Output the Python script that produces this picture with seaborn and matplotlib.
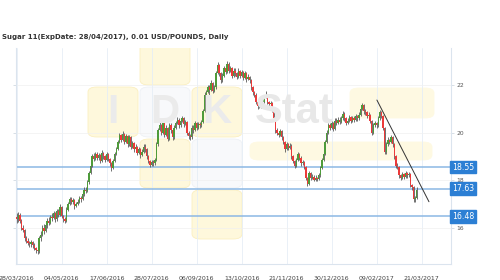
import numpy as np
import pandas as pd
import matplotlib
matplotlib.use("Agg")
import matplotlib.pyplot as plt
from matplotlib.patches import FancyBboxPatch
import seaborn as sns

# ---------------- data ----------------
title = "Sugar 11(ExpDate: 28/04/2017), 0.01 USD/POUNDS, Daily"
tick_labels = ["28/03/2016", "04/05/2016", "17/06/2016", "28/07/2016", "06/09/2016",
               "13/10/2016", "21/11/2016", "30/12/2016", "09/02/2017", "21/03/2017"]
tick_bars = [0, 28, 56, 84, 112, 140, 168, 196, 224, 252]
y_ticks = [16, 18, 20, 22]
levels = [18.55, 17.63, 16.48]
level_labels = ["18.55", "17.63", "16.48"]
trend_x = [224.2, 256.6]
trend_y = [21.37, 17.09]
first_open = 16.45

close = [
    16.35, 16.55, 16.30, 16.00, 15.90, 15.55, 15.45, 15.35, 15.30, 15.40,
    15.25, 15.15, 15.05, 15.00, 15.55, 15.70, 16.00, 15.85, 16.10, 16.30,
    16.20, 16.45, 16.40, 16.60, 16.35, 16.70, 16.55, 16.85, 16.50, 16.35,
    16.30, 16.75, 17.00, 17.20, 17.10, 17.15, 16.90, 17.00, 17.10, 17.25,
    17.20, 17.40, 17.60, 17.55, 17.90, 18.30, 18.60, 19.00, 18.90, 19.10,
    18.95, 19.05, 18.80, 19.15, 19.00, 18.85, 19.10, 18.90, 18.70, 18.50,
    18.80, 19.10, 19.30, 19.60, 19.90, 19.70, 19.95, 19.60, 19.85, 19.50,
    19.80, 19.40, 19.55, 19.30, 19.40, 19.15, 19.30, 19.05, 19.20, 19.40,
    19.30, 19.00, 18.80, 18.65, 18.75, 18.70, 18.85, 19.50, 20.10, 20.30,
    20.00, 20.40, 19.90, 20.20, 19.75, 20.30, 20.10, 19.80, 20.20, 20.40,
    20.55, 20.30, 20.50, 20.60, 20.35, 20.45, 20.00, 19.85, 19.80, 20.20,
    20.10, 20.40, 20.20, 20.35, 20.30, 20.45, 20.90, 21.60, 21.70, 21.90,
    21.80, 22.10, 21.75, 21.90, 22.50, 22.85, 22.50, 22.20, 22.40, 22.70,
    22.55, 22.90, 22.60, 22.70, 22.40, 22.60, 22.50, 22.35, 22.60, 22.40,
    22.55, 22.30, 22.50, 22.25, 22.35, 22.20, 21.90, 21.70, 21.60, 21.30,
    21.10, 21.35, 21.15, 21.30, 21.50, 21.55, 21.30, 21.20, 21.25, 20.95,
    20.60, 20.10, 20.00, 19.90, 20.05, 19.80, 19.60, 19.30, 19.50, 19.35,
    19.45, 19.00, 18.80, 18.60, 18.85, 19.10, 18.95, 18.70, 18.75, 18.55,
    18.10, 17.85, 18.30, 18.10, 18.15, 18.00, 18.10, 18.05, 18.20, 18.50,
    18.85, 19.10, 19.60, 20.00, 20.30, 20.20, 20.40, 20.15, 20.50, 20.40,
    20.55, 20.45, 20.60, 20.80, 20.60, 20.40, 20.50, 20.65, 20.50, 20.60,
    20.55, 20.70, 20.60, 20.75, 21.00, 21.15, 20.90, 20.85, 20.70, 20.75,
    20.50, 20.00, 20.30, 20.40, 20.30, 20.60, 20.85, 20.70, 20.20, 19.20,
    19.50, 19.70, 19.60, 19.80, 19.50, 19.00, 18.60, 18.55, 18.20, 18.10,
    18.25, 18.15, 18.30, 18.20, 18.25, 17.80, 17.70, 17.20, 17.25, 17.60,
]

high = [
    16.60, 16.65, 16.60, 16.35, 16.10, 15.95, 15.65, 15.55, 15.45, 15.50,
    15.45, 15.35, 15.20, 15.10, 15.65, 15.85, 16.10, 16.15, 16.20, 16.40,
    16.45, 16.55, 16.60, 16.70, 16.65, 16.80, 16.80, 17.00, 16.90, 16.55,
    16.45, 16.85, 17.10, 17.30, 17.30, 17.25, 17.20, 17.10, 17.20, 17.35,
    17.35, 17.50, 17.70, 17.70, 18.00, 18.40, 18.70, 19.10, 19.15, 19.20,
    19.20, 19.15, 19.10, 19.25, 19.20, 19.05, 19.20, 19.15, 18.95, 18.75,
    18.90, 19.20, 19.40, 19.70, 20.00, 19.95, 20.05, 20.00, 19.95, 19.90,
    19.90, 19.85, 19.65, 19.60, 19.50, 19.45, 19.40, 19.35, 19.30, 19.50,
    19.50, 19.35, 19.05, 18.85, 18.85, 18.85, 18.95, 19.60, 20.20, 20.45,
    20.35, 20.50, 20.45, 20.30, 20.25, 20.40, 20.40, 20.15, 20.30, 20.50,
    20.65, 20.60, 20.60, 20.70, 20.65, 20.55, 20.50, 20.05, 19.95, 20.30,
    20.30, 20.50, 20.45, 20.45, 20.45, 20.55, 21.00, 21.70, 21.80, 22.00,
    22.00, 22.20, 22.15, 22.00, 22.60, 22.95, 22.90, 22.55, 22.50, 22.80,
    22.80, 23.00, 22.95, 22.80, 22.75, 22.70, 22.70, 22.55, 22.70, 22.65,
    22.65, 22.60, 22.60, 22.55, 22.45, 22.40, 22.25, 21.95, 21.75, 21.65,
    21.35, 21.45, 21.40, 21.40, 21.60, 21.75, 21.60, 21.35, 21.35, 21.30,
    21.00, 20.65, 20.20, 20.05, 20.15, 20.10, 19.85, 19.65, 19.60, 19.55,
    19.55, 19.50, 19.05, 18.85, 18.95, 19.20, 19.15, 19.00, 18.85, 18.80,
    18.60, 18.15, 18.40, 18.35, 18.25, 18.20, 18.20, 18.15, 18.30, 18.60,
    18.95, 19.20, 19.70, 20.10, 20.40, 20.40, 20.50, 20.45, 20.60, 20.60,
    20.65, 20.65, 20.70, 20.90, 20.85, 20.65, 20.60, 20.75, 20.70, 20.70,
    20.70, 20.80, 20.75, 20.85, 21.10, 21.25, 21.20, 21.00, 20.90, 20.85,
    20.80, 20.55, 20.40, 20.50, 20.45, 20.70, 20.95, 20.90, 20.75, 20.25,
    19.60, 19.80, 19.75, 19.90, 19.85, 19.55, 19.05, 18.70, 18.60, 18.25,
    18.35, 18.30, 18.40, 18.35, 18.35, 18.30, 17.85, 17.75, 17.35, 17.70,
]

low = [
    16.20, 16.25, 16.20, 15.90, 15.80, 15.45, 15.35, 15.25, 15.20, 15.20,
    15.15, 15.05, 14.95, 14.90, 14.95, 15.45, 15.65, 15.75, 15.80, 16.00,
    16.10, 16.15, 16.30, 16.35, 16.25, 16.30, 16.45, 16.50, 16.40, 16.25,
    16.20, 16.25, 16.70, 16.95, 17.00, 17.00, 16.80, 16.85, 16.95, 17.05,
    17.10, 17.15, 17.35, 17.45, 17.50, 17.85, 18.25, 18.55, 18.80, 18.85,
    18.85, 18.85, 18.70, 18.75, 18.90, 18.75, 18.80, 18.80, 18.60, 18.40,
    18.45, 18.75, 19.05, 19.25, 19.55, 19.60, 19.65, 19.50, 19.55, 19.40,
    19.45, 19.30, 19.35, 19.20, 19.25, 19.05, 19.10, 18.95, 19.00, 19.15,
    19.20, 18.90, 18.70, 18.55, 18.60, 18.60, 18.65, 18.80, 19.45, 20.05,
    19.90, 19.95, 19.80, 19.85, 19.65, 19.70, 20.00, 19.70, 19.75, 20.15,
    20.35, 20.20, 20.25, 20.45, 20.25, 20.30, 19.90, 19.75, 19.70, 19.75,
    20.00, 20.05, 20.10, 20.15, 20.20, 20.25, 20.40, 20.85, 21.50, 21.65,
    21.60, 21.75, 21.65, 21.70, 21.85, 22.45, 22.40, 22.10, 22.15, 22.35,
    22.45, 22.50, 22.50, 22.55, 22.30, 22.35, 22.40, 22.25, 22.30, 22.30,
    22.35, 22.20, 22.25, 22.15, 22.20, 22.10, 21.80, 21.60, 21.50, 21.20,
    21.00, 21.05, 21.05, 21.10, 21.25, 21.45, 21.20, 21.10, 21.15, 20.85,
    20.50, 20.00, 19.90, 19.80, 19.85, 19.70, 19.50, 19.20, 19.25, 19.25,
    19.30, 18.90, 18.70, 18.50, 18.55, 18.80, 18.85, 18.60, 18.65, 18.45,
    18.00, 17.75, 17.80, 18.00, 18.05, 17.95, 17.95, 17.95, 18.00, 18.15,
    18.45, 18.80, 19.05, 19.55, 19.95, 20.10, 20.15, 20.05, 20.10, 20.30,
    20.35, 20.35, 20.40, 20.55, 20.50, 20.30, 20.35, 20.45, 20.40, 20.45,
    20.45, 20.50, 20.50, 20.55, 20.70, 20.95, 20.80, 20.75, 20.60, 20.65,
    20.40, 19.90, 19.95, 20.25, 20.20, 20.25, 20.55, 20.60, 20.10, 19.10,
    19.10, 19.45, 19.50, 19.55, 19.40, 18.90, 18.50, 18.45, 18.10, 18.00,
    18.05, 18.05, 18.10, 18.10, 18.15, 17.70, 17.60, 17.10, 17.10, 17.20,
]

# ---------------- figure ----------------
sns.set_theme(style="white")
plt.rcParams["font.family"] = ["DejaVu Sans"]

W, H = 500, 280
fig = plt.figure(figsize=(W / 100, H / 100), dpi=100)
fig.patch.set_facecolor("white")

def px(x, y):
    return x / W, 1 - y / H

L, R, T, B = 16, 450.5, 48, 264
ax = fig.add_axes([L / W, 1 - B / H, (R - L) / W, (B - T) / H])
ax.set_facecolor("white")

df = pd.DataFrame({"close": close, "high": high, "low": low})
df["bar"] = np.arange(len(df))
df["open"] = [first_open] + close[:-1]
df["up"] = df["close"] >= df["open"]

# watermark (decoration)
def wm_box(x0, y0, w, h, fc, ec):
    p = FancyBboxPatch(px(x0, y0 + h), w / W, h / H,
                       boxstyle="round,pad=0,rounding_size=0.018",
                       transform=fig.transFigure, facecolor=fc, edgecolor=ec,
                       linewidth=0.6, zorder=0, clip_on=True)
    ax.add_patch(p)
    p.set_clip_box(ax.bbox)

yel, yel_e = "#fef8dc", "#fbefc0"
wht, wht_e = "#f8f9fb", "#eef1f5"
wm_box(140, 36, 50, 49, yel, yel_e)
wm_box(88, 87, 50, 50, yel, yel_e)
wm_box(140, 87, 50, 50, wht, wht_e)
wm_box(192, 87, 50, 50, yel, yel_e)
wm_box(140, 139, 50, 49, yel, yel_e)
wm_box(192, 139, 50, 49, wht, wht_e)
wm_box(192, 190, 50, 49, yel, yel_e)
wm_box(350, 88, 84, 30, "#fef9e2", "#fef9e2")
wm_box(250, 142, 182, 18, "#fef9e2", "#fef9e2")
for ch, cx in [("I", 113), ("D", 165), ("K", 217)]:
    fig.text(*px(cx, 112), ch, fontsize=29, fontweight="bold", color="#ebebeb",
             ha="center", va="center", family="Liberation Sans", zorder=0.5)
fig.text(*px(294, 112), "Stat", fontsize=30, fontweight="bold", color="#e8e8e8",
         ha="center", va="center", family="Liberation Sans", zorder=0.5)

# grid
for xb in tick_bars:
    ax.axvline(xb, color="#e6eef6", lw=0.6, zorder=1)
for yv in y_ticks:
    ax.axhline(yv, color="#f0f0f0", lw=0.5, zorder=1)

# levels
for lv, lab in zip(levels, level_labels):
    ax.axhline(lv, color="#8cb8e4", lw=1.1, zorder=2)
    ax.text(1.003, lv, lab, transform=ax.get_yaxis_transform(), ha="left", va="center",
            fontsize=5.6, color="white", zorder=6, clip_on=False,
            bbox=dict(boxstyle="square,pad=0.25", facecolor="#2c7fd4", edgecolor="#2c7fd4"))

# candles
ax.vlines(df["bar"], df["low"], df["high"], color="#5a5a5a", lw=0.6, zorder=3)
body_lo = np.minimum(df["open"], df["close"])
body_h = np.maximum(np.abs(df["close"] - df["open"]), 0.03)
colors = np.where(df["up"], "#4e9b3a", "#ec3a3a")
ax.bar(df["bar"], body_h, bottom=body_lo, width=0.85, color=colors, linewidth=0, zorder=4)

# trend line
sns.lineplot(x=trend_x, y=trend_y, ax=ax, color="#333333", lw=0.7, zorder=5)

ax.set_xlim(-0.4, 270)
ax.set_ylim(14.47, 23.56)
ax.set_xticks(tick_bars)
ax.set_xticklabels(tick_labels)
ax.set_yticks(y_ticks)
ax.set_yticklabels([str(v) for v in y_ticks])
ax.yaxis.tick_right()
ax.tick_params(axis="y", left=True, right=True, labelleft=False, labelright=True,
               length=2, width=0.5, color="#c8d2dc", labelsize=4.3, labelcolor="#555555", pad=2)
ax.tick_params(axis="x", bottom=False, labelsize=4.5, labelcolor="#444444", pad=2.5)
for s in ["left", "right", "bottom"]:
    ax.spines[s].set_color("#dbe4ee")
    ax.spines[s].set_linewidth(0.8)
ax.spines["top"].set_visible(False)
ax.set_xlabel("")
ax.set_ylabel("")

fig.text(*px(2, 37), title, fontsize=5.0, fontweight="bold", color="#333333",
         ha="left", va="center")

fig.savefig("out.png", dpi=100, facecolor="white")
